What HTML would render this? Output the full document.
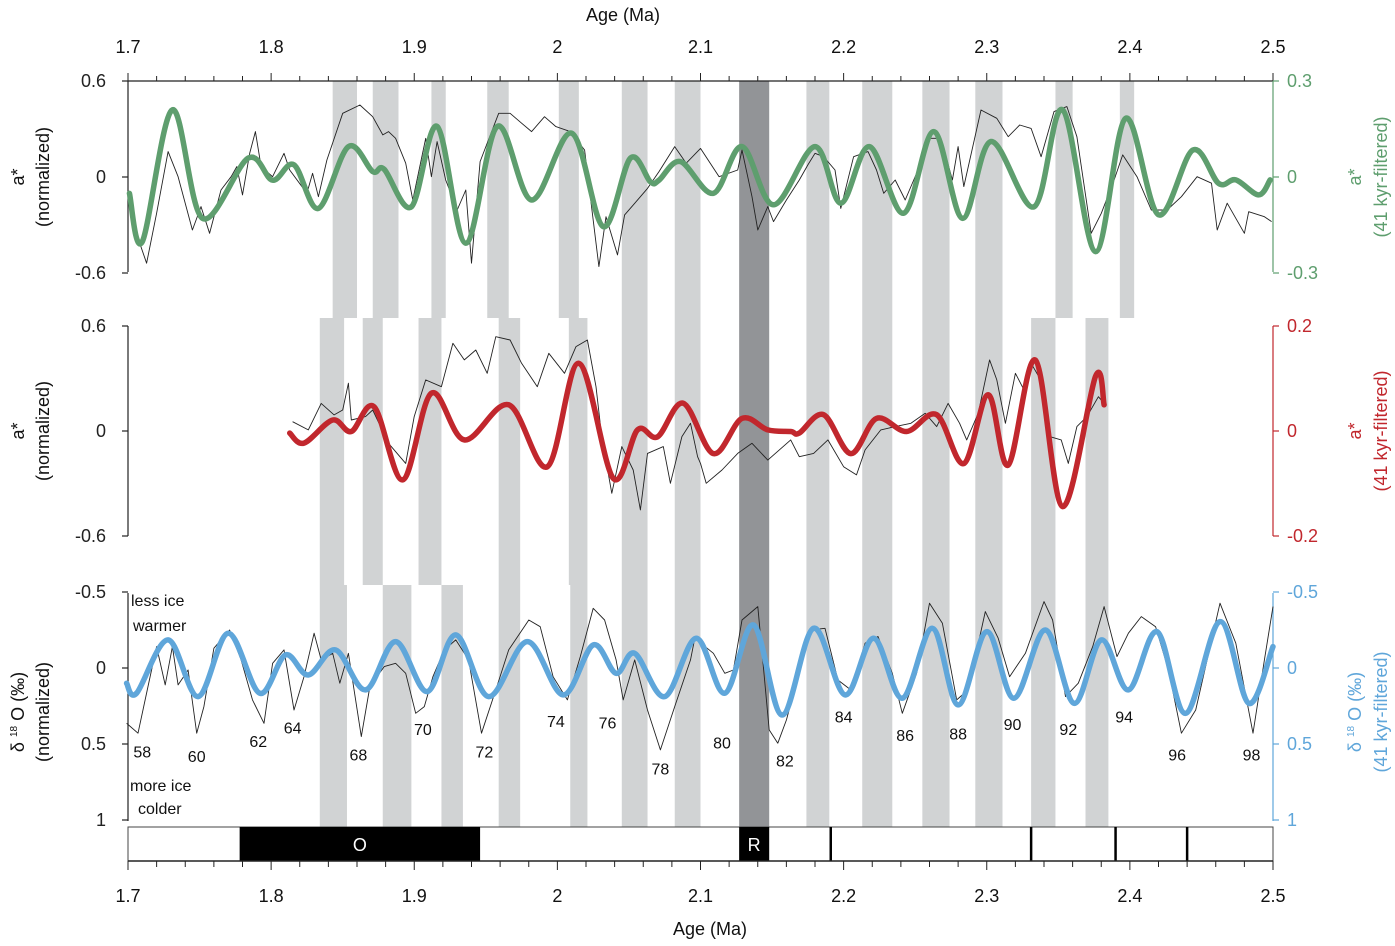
<!DOCTYPE html>
<html><head><meta charset="utf-8"><style>
body{margin:0;background:#fff}
svg{display:block;font-family:"Liberation Sans",sans-serif}
</style></head><body>
<svg id="chart" width="1395" height="946" viewBox="0 0 1395 946" xmlns="http://www.w3.org/2000/svg">
<g id="bands"></g>
<g id="axes"></g>
<g id="series"></g>
<g id="labels"></g>
</svg>
<script>
// ---------- data ----------
const ageTicks = [1.7,1.8,1.9,2,2.1,2.2,2.3,2.4,2.5];
const ageTickLabels = ["1.7","1.8","1.9","2","2.1","2.2","2.3","2.4","2.5"];
const p1LeftTicks = [0.6,0,-0.6];
const p1RightTicks = [0.3,0,-0.3];
const p2LeftTicks = [0.6,0,-0.6];
const p2RightTicks = [0.2,0,-0.2];
const p3Ticks = [-0.5,0,0.5,1];
const p3TickLabels = ["-0.5","0","0.5","1"];

const p1RawAge = [1.705,1.713,1.720,1.728,1.735,1.745,1.751,1.757,1.765,1.772,1.776,1.780,1.785,1.789,1.793,1.801,1.809,1.813,1.825,1.829,1.833,1.839,1.850,1.862,1.871,1.878,1.882,1.887,1.894,1.899,1.908,1.912,1.916,1.922,1.930,1.936,1.940,1.946,1.959,1.967,1.975,1.982,1.991,1.999,2.009,2.019,2.029,2.034,2.042,2.047,2.058,2.063,2.071,2.082,2.090,2.100,2.113,2.126,2.129,2.136,2.140,2.147,2.151,2.160,2.169,2.175,2.180,2.186,2.194,2.198,2.207,2.217,2.223,2.228,2.236,2.243,2.252,2.260,2.268,2.276,2.280,2.284,2.296,2.307,2.315,2.323,2.331,2.338,2.347,2.356,2.363,2.373,2.380,2.389,2.395,2.405,2.415,2.426,2.436,2.447,2.457,2.461,2.468,2.480,2.483,2.494,2.499];
const p1RawVal = [-0.331,-0.539,-0.227,0.159,0.002,-0.331,-0.185,-0.352,-0.081,0.002,0.065,-0.112,0.148,0.284,0.065,0.002,0.148,0.044,-0.102,0.023,-0.123,0.106,0.398,0.450,0.377,0.263,0.284,0.242,0.086,-0.144,0.242,0.002,0.221,-0.019,-0.206,-0.081,-0.539,0.096,0.398,0.398,0.336,0.284,0.377,0.315,0.284,0.169,-0.560,-0.248,-0.487,-0.237,-0.123,-0.071,0.034,0.190,0.086,0.179,0.002,0.044,0.169,-0.123,-0.331,-0.185,-0.279,-0.144,-0.019,0.075,0.148,0.127,0.044,-0.196,0.127,0.159,0.044,-0.102,-0.019,-0.144,0.044,0.242,0.242,-0.019,0.190,-0.060,0.419,0.367,0.252,0.325,0.304,0.127,0.409,0.440,0.252,-0.352,-0.227,-0.019,0.138,0.002,-0.206,-0.206,-0.123,0.002,-0.039,-0.331,-0.164,-0.352,-0.217,-0.248,-0.279];

const p1FiltAge = [1.701,1.710,1.731,1.752,1.784,1.801,1.816,1.833,1.854,1.871,1.879,1.898,1.916,1.936,1.958,1.982,2.010,2.032,2.051,2.065,2.071,2.086,2.109,2.129,2.151,2.180,2.198,2.218,2.242,2.263,2.283,2.303,2.333,2.353,2.376,2.397,2.420,2.444,2.462,2.474,2.490,2.498];
const p1FiltVal = [-0.051,-0.202,0.21,-0.129,0.059,-0.01,0.038,-0.098,0.095,0.017,0.024,-0.093,0.158,-0.207,0.158,-0.072,0.137,-0.155,0.059,-0.015,-0.01,0.048,-0.051,0.095,-0.087,0.095,-0.082,0.095,-0.113,0.142,-0.129,0.111,-0.093,0.21,-0.233,0.183,-0.118,0.084,-0.02,-0.009,-0.056,-0.009];

const p2RawAge = [1.815,1.826,1.835,1.844,1.850,1.854,1.856,1.866,1.871,1.882,1.894,1.900,1.908,1.919,1.927,1.935,1.943,1.951,1.957,1.967,1.975,1.986,1.994,2.005,2.013,2.021,2.027,2.031,2.038,2.045,2.053,2.058,2.063,2.074,2.079,2.087,2.093,2.098,2.100,2.104,2.115,2.126,2.136,2.147,2.163,2.169,2.179,2.189,2.200,2.209,2.215,2.226,2.236,2.247,2.257,2.265,2.273,2.281,2.286,2.294,2.302,2.307,2.313,2.320,2.326,2.331,2.339,2.344,2.352,2.357,2.363,2.370,2.378,2.382];
const p2RawVal = [0.053,0.006,0.158,0.092,0.120,0.273,0.063,0.082,0.120,-0.070,-0.185,0.082,0.292,0.253,0.501,0.406,0.463,0.330,0.539,0.520,0.387,0.253,0.444,0.330,0.482,0.520,0.253,-0.032,-0.356,-0.089,-0.223,-0.451,-0.128,-0.089,-0.299,-0.032,0.044,-0.147,-0.185,-0.299,-0.223,-0.128,-0.070,-0.166,-0.051,-0.147,-0.128,-0.051,-0.204,-0.251,-0.108,0.006,0.025,0.044,0.101,0.025,0.158,0.044,-0.051,0.101,0.406,0.292,0.044,0.330,0.235,0.387,0.273,-0.032,-0.051,-0.185,0.025,0.082,0.196,0.158];

const p2FiltAge = [1.813,1.823,1.843,1.856,1.872,1.892,1.912,1.935,1.966,1.993,2.015,2.039,2.056,2.070,2.088,2.109,2.129,2.147,2.163,2.169,2.186,2.205,2.223,2.244,2.265,2.284,2.301,2.315,2.334,2.353,2.376,2.382];
const p2FiltVal = [-0.004,-0.023,0.021,-0.001,0.046,-0.093,0.072,-0.017,0.050,-0.068,0.129,-0.090,0.002,-0.011,0.053,-0.043,0.024,0.002,-0.001,-0.004,0.031,-0.043,0.024,-0.001,0.031,-0.062,0.069,-0.065,0.135,-0.144,0.104,0.050];

const p3RawAge = [1.699,1.707,1.714,1.720,1.726,1.731,1.735,1.742,1.748,1.753,1.760,1.771,1.779,1.787,1.795,1.801,1.809,1.816,1.823,1.830,1.835,1.843,1.848,1.854,1.863,1.869,1.879,1.887,1.894,1.901,1.907,1.913,1.921,1.929,1.938,1.947,1.957,1.966,1.980,1.988,1.997,2.007,2.016,2.025,2.033,2.041,2.046,2.054,2.063,2.072,2.082,2.093,2.096,2.109,2.117,2.123,2.129,2.140,2.148,2.154,2.160,2.170,2.177,2.187,2.196,2.205,2.215,2.224,2.234,2.241,2.251,2.260,2.269,2.279,2.287,2.299,2.308,2.316,2.327,2.340,2.346,2.355,2.364,2.374,2.382,2.391,2.399,2.408,2.418,2.427,2.436,2.446,2.463,2.474,2.486,2.494,2.500];
const p3RawVal = [0.364,0.429,0.122,-0.141,0.111,-0.141,0.111,0.013,0.429,0.254,-0.130,-0.250,-0.053,0.210,0.364,-0.031,-0.119,0.276,0.057,-0.229,-0.053,-0.097,0.100,-0.097,0.451,0.122,-0.009,-0.031,0.035,0.298,0.254,0.057,-0.119,-0.185,-0.053,0.429,0.144,-0.119,-0.316,-0.272,0.057,0.210,-0.075,-0.393,-0.316,-0.053,0.210,-0.053,0.276,0.539,0.254,-0.053,-0.196,-0.097,0.035,0.013,-0.316,-0.404,0.407,0.495,0.342,-0.009,-0.250,-0.261,0.079,0.144,-0.163,-0.207,0.035,0.298,0.035,-0.426,-0.294,0.210,0.144,-0.371,-0.196,0.057,-0.097,-0.437,-0.316,0.188,0.100,-0.141,-0.404,-0.075,-0.229,-0.338,-0.272,0.013,0.429,0.276,-0.426,-0.163,0.429,-0.053,-0.404];

const p3FiltAge = [1.699,1.706,1.728,1.749,1.770,1.792,1.810,1.826,1.845,1.866,1.887,1.909,1.929,1.952,1.979,2.004,2.025,2.041,2.054,2.075,2.097,2.117,2.137,2.157,2.179,2.201,2.221,2.241,2.262,2.280,2.300,2.319,2.341,2.361,2.380,2.399,2.419,2.439,2.463,2.483,2.500];
const p3FiltVal = [0.100,0.166,-0.185,0.188,-0.229,0.166,-0.086,0.046,-0.119,0.144,-0.174,0.155,-0.218,0.188,-0.174,0.177,-0.152,0.035,-0.097,0.188,-0.196,0.166,-0.283,0.309,-0.261,0.177,-0.196,0.199,-0.261,0.243,-0.239,0.199,-0.250,0.232,-0.185,0.144,-0.239,0.298,-0.305,0.232,-0.141];

const misLabels = ["58","60","62","64","68","70","72","74","76","78","80","82","84","86","88","90","92","94","96","98"];
const misAge = [1.710,1.748,1.791,1.815,1.861,1.906,1.949,1.999,2.035,2.072,2.115,2.159,2.200,2.243,2.280,2.318,2.357,2.396,2.433,2.485];
const misVal = [0.55,0.58,0.48,0.39,0.57,0.40,0.55,0.35,0.36,0.66,0.49,0.61,0.32,0.44,0.43,0.37,0.40,0.32,0.57,0.57];

const bandsTop = [[1.843,1.860],[1.871,1.889],[1.912,1.922],[1.951,1.966],[2.001,2.015],[2.045,2.063],[2.082,2.100],[2.174,2.190],[2.213,2.234],[2.255,2.274],[2.292,2.311],[2.348,2.360],[2.393,2.403]];
const bandsMid = [[1.834,1.851],[1.864,1.878],[1.903,1.919],[1.959,1.974],[2.008,2.021],[2.045,2.063],[2.082,2.100],[2.174,2.190],[2.213,2.234],[2.255,2.274],[2.292,2.311],[2.331,2.348],[2.369,2.385]];
const bandsBot = [[1.834,1.853],[1.878,1.898],[1.919,1.934],[1.959,1.974],[2.009,2.021],[2.045,2.063],[2.082,2.100],[2.174,2.190],[2.213,2.234],[2.255,2.274],[2.292,2.311],[2.331,2.348],[2.369,2.385]];
const darkBand = [2.127,2.148];
const polarityBlack = [[1.778,1.946,"O"],[2.127,2.148,"R"]];
const polarityLines = [2.191,2.331,2.390,2.440];

// ---------- scales ----------
const X0=128, X1=1273;
const xA = a => X0 + (a-1.7)/(0.8)*(X1-X0);
const y1 = v => 177 - v/0.6*96;
const y1r = v => 177 - v/0.3*96;
const y2 = v => 431 - v/0.6*105;
const y2r = v => 431 - v/0.2*105;
const y3 = v => 668 + v*152;
const NS="http://www.w3.org/2000/svg";
function mk(tag, parent, attrs){const e=document.createElementNS(NS,tag);for(const k in attrs)e.setAttribute(k,attrs[k]);parent.appendChild(e);return e;}
const gB=document.getElementById('bands'),gA=document.getElementById('axes'),gS=document.getElementById('series'),gL=document.getElementById('labels');

function drawBands(list,yt,yb,name){list.forEach(b=>{const r=mk('rect',gB,{x:xA(b[0]),y:yt,width:xA(b[1])-xA(b[0]),height:yb-yt,fill:'#d1d3d4'});

});}
drawBands(bandsTop,81,318,'band-top');
drawBands(bandsMid,318,585,'band-middle');
drawBands(bandsBot,585,827,'band-bottom');
{const r=mk('rect',gB,{x:xA(darkBand[0]),y:81,width:xA(darkBand[1])-xA(darkBand[0]),height:746,fill:'#929497'});

}

function poly(ages,vals,ys,stroke,w,name){let d='';ages.forEach((a,i)=>{d+=(i?'L':'M')+xA(a).toFixed(1)+','+ys(vals[i]).toFixed(1);});
const p=mk('path',gS,{d:d,fill:'none',stroke:stroke,'stroke-width':w,'stroke-linejoin':'round'});

}
function smooth(ages,vals,ys,stroke,w,name){const P=ages.map((a,i)=>[xA(a),ys(vals[i])]);let d='M'+P[0][0]+','+P[0][1];
for(let i=0;i<P.length-1;i++){const p0=P[Math.max(0,i-1)],p1=P[i],p2=P[i+1],p3=P[Math.min(P.length-1,i+2)];
const c1=[p1[0]+(p2[0]-p0[0])/6,p1[1]+(p2[1]-p0[1])/6],c2=[p2[0]-(p3[0]-p1[0])/6,p2[1]-(p3[1]-p1[1])/6];
d+='C'+c1[0].toFixed(1)+','+c1[1].toFixed(1)+' '+c2[0].toFixed(1)+','+c2[1].toFixed(1)+' '+p2[0].toFixed(1)+','+p2[1].toFixed(1);}
const p=mk('path',gS,{d:d,fill:'none',stroke:stroke,'stroke-width':w,'stroke-linecap':'round'});

}
poly(p1RawAge,p1RawVal,y1,'#222',0.9,'astar-raw-line-top');
smooth(p1FiltAge,p1FiltVal,y1r,'#5e9e6e',5.5,'astar-filtered-line-top');
poly(p2RawAge,p2RawVal,y2,'#222',0.9,'astar-raw-line-middle');
smooth(p2FiltAge,p2FiltVal,y2r,'#c1272d',5.5,'astar-filtered-line-middle');
poly(p3RawAge,p3RawVal,y3,'#222',0.9,'d18o-raw-line');
smooth(p3FiltAge,p3FiltVal,y3,'#5fa6da',5.5,'d18o-filtered-line');

function txt(parent,x,y,s,attrs,name){const t=mk('text',parent,Object.assign({x:x,y:y,'font-size':18,fill:'#111'},attrs||{}));t.textContent=s;

return t;}
function line(x1,y1_,x2,y2_,c,w,name){const l=mk('line',gA,{x1:x1,y1:y1_,x2:x2,y2:y2_,stroke:c,'stroke-width':w||1});

}

line(X0,81,X1,81,'#222',1.2,'top-x-axis');
for(let a=1.7;a<=2.5001;a+=0.02){const major=Math.abs(a*10-Math.round(a*10))<1e-6;line(xA(a),81,xA(a),major?73:76,'#222',1,'top-x-tick');}
ageTicks.forEach((a,i)=>txt(gL,xA(a),53,ageTickLabels[i],{'text-anchor':'middle'},'top-x-tick-label'));
txt(gL,623,21,'Age (Ma)',{'text-anchor':'middle'},'top-x-axis-title');

function yaxis(x,yt,yb,ticks,ys,labels,c,side,name){line(x,yt,x,yb,c,1.2,name);
ticks.forEach((v,i)=>{const y=ys(v);line(x,y,side<0?x-6:x+6,y,c,1.2,name+'-tick');
txt(gL,side<0?x-22:x+14,y+6,labels[i],{'text-anchor':side<0?'end':'start',fill:c},name+'-label');});}
yaxis(X0,81,272,p1LeftTicks,y1,["0.6","0","-0.6"],'#222',-1,'top-left-y-axis');
yaxis(X1,81,272,p1RightTicks,y1r,["0.3","0","-0.3"],'#5e9e6e',1,'top-right-y-axis');
yaxis(X0,326,536,p2LeftTicks,y2,["0.6","0","-0.6"],'#222',-1,'middle-left-y-axis');
yaxis(X1,326,536,p2RightTicks,y2r,["0.2","0","-0.2"],'#c1272d',1,'middle-right-y-axis');
yaxis(X0,593,821,p3Ticks,y3,p3TickLabels,'#222',-1,'bottom-left-y-axis');
yaxis(X1,593,821,p3Ticks,y3,p3TickLabels,'#5fa6da',1,'bottom-right-y-axis');

function vt(x,y,s,c,name){const t=txt(gL,x,y,s,{'text-anchor':'middle',fill:c,transform:'rotate(-90 '+x+' '+y+')'},name);return t;}
vt(24,177,'a*','#111','top-left-y-title-1');vt(49,177,'(normalized)','#111','top-left-y-title-2');
vt(1361,177,'a*','#5e9e6e','top-right-y-title-1');vt(1387,177,'(41 kyr-filtered)','#5e9e6e','top-right-y-title-2');
vt(24,431,'a*','#111','middle-left-y-title-1');vt(49,431,'(normalized)','#111','middle-left-y-title-2');
vt(1361,431,'a*','#c1272d','middle-right-y-title-1');vt(1387,431,'(41 kyr-filtered)','#c1272d','middle-right-y-title-2');
{const t=vt(24,712,'','#111','bottom-left-y-title-1');t.innerHTML='δ <tspan font-size="10" dy="-7">18</tspan><tspan dy="7"> O (‰)</tspan>';}
vt(49,712,'(normalized)','#111','bottom-left-y-title-2');
{const t=vt(1361,712,'','#5fa6da','bottom-right-y-title-1');t.innerHTML='δ <tspan font-size="10" dy="-7">18</tspan><tspan dy="7"> O (‰)</tspan>';}
vt(1387,712,'(41 kyr-filtered)','#5fa6da','bottom-right-y-title-2');

txt(gL,131,606,'less ice',{'font-size':16},'less-ice-note');
txt(gL,133,631,'warmer',{'font-size':16},'warmer-note');
txt(gL,130,791,'more ice',{'font-size':16},'more-ice-note');
txt(gL,138,814,'colder',{'font-size':16},'colder-note');
misLabels.forEach((s,i)=>txt(gL,xA(misAge[i]),y3(misVal[i])+6,s,{'text-anchor':'middle','font-size':16},'mis-label'));

{const r=mk('rect',gA,{x:X0,y:827,width:X1-X0,height:34,fill:'none',stroke:'#444','stroke-width':1});

}
polarityBlack.forEach(p=>{const r=mk('rect',gA,{x:xA(p[0]),y:827,width:xA(p[1])-xA(p[0]),height:34,fill:'#000'});


txt(gL,(xA(p[0])+xA(p[1]))/2,851,p[2],{'text-anchor':'middle',fill:'#fff'},'polarity-label');});
polarityLines.forEach(a=>line(xA(a),827,xA(a),861,'#000',2.5,'polarity-event'));

line(X0,861,X1,861,'#222',1.5,'bottom-x-axis');
for(let a=1.7;a<=2.5001;a+=0.02){const major=Math.abs(a*10-Math.round(a*10))<1e-6;line(xA(a),861,xA(a),major?870:867,'#222',1,'bottom-x-tick');}
ageTicks.forEach((a,i)=>txt(gL,xA(a),902,ageTickLabels[i],{'text-anchor':'middle'},'bottom-x-tick-label'));
txt(gL,710,935,'Age (Ma)',{'text-anchor':'middle'},'bottom-x-axis-title');
</script>
</body></html>
